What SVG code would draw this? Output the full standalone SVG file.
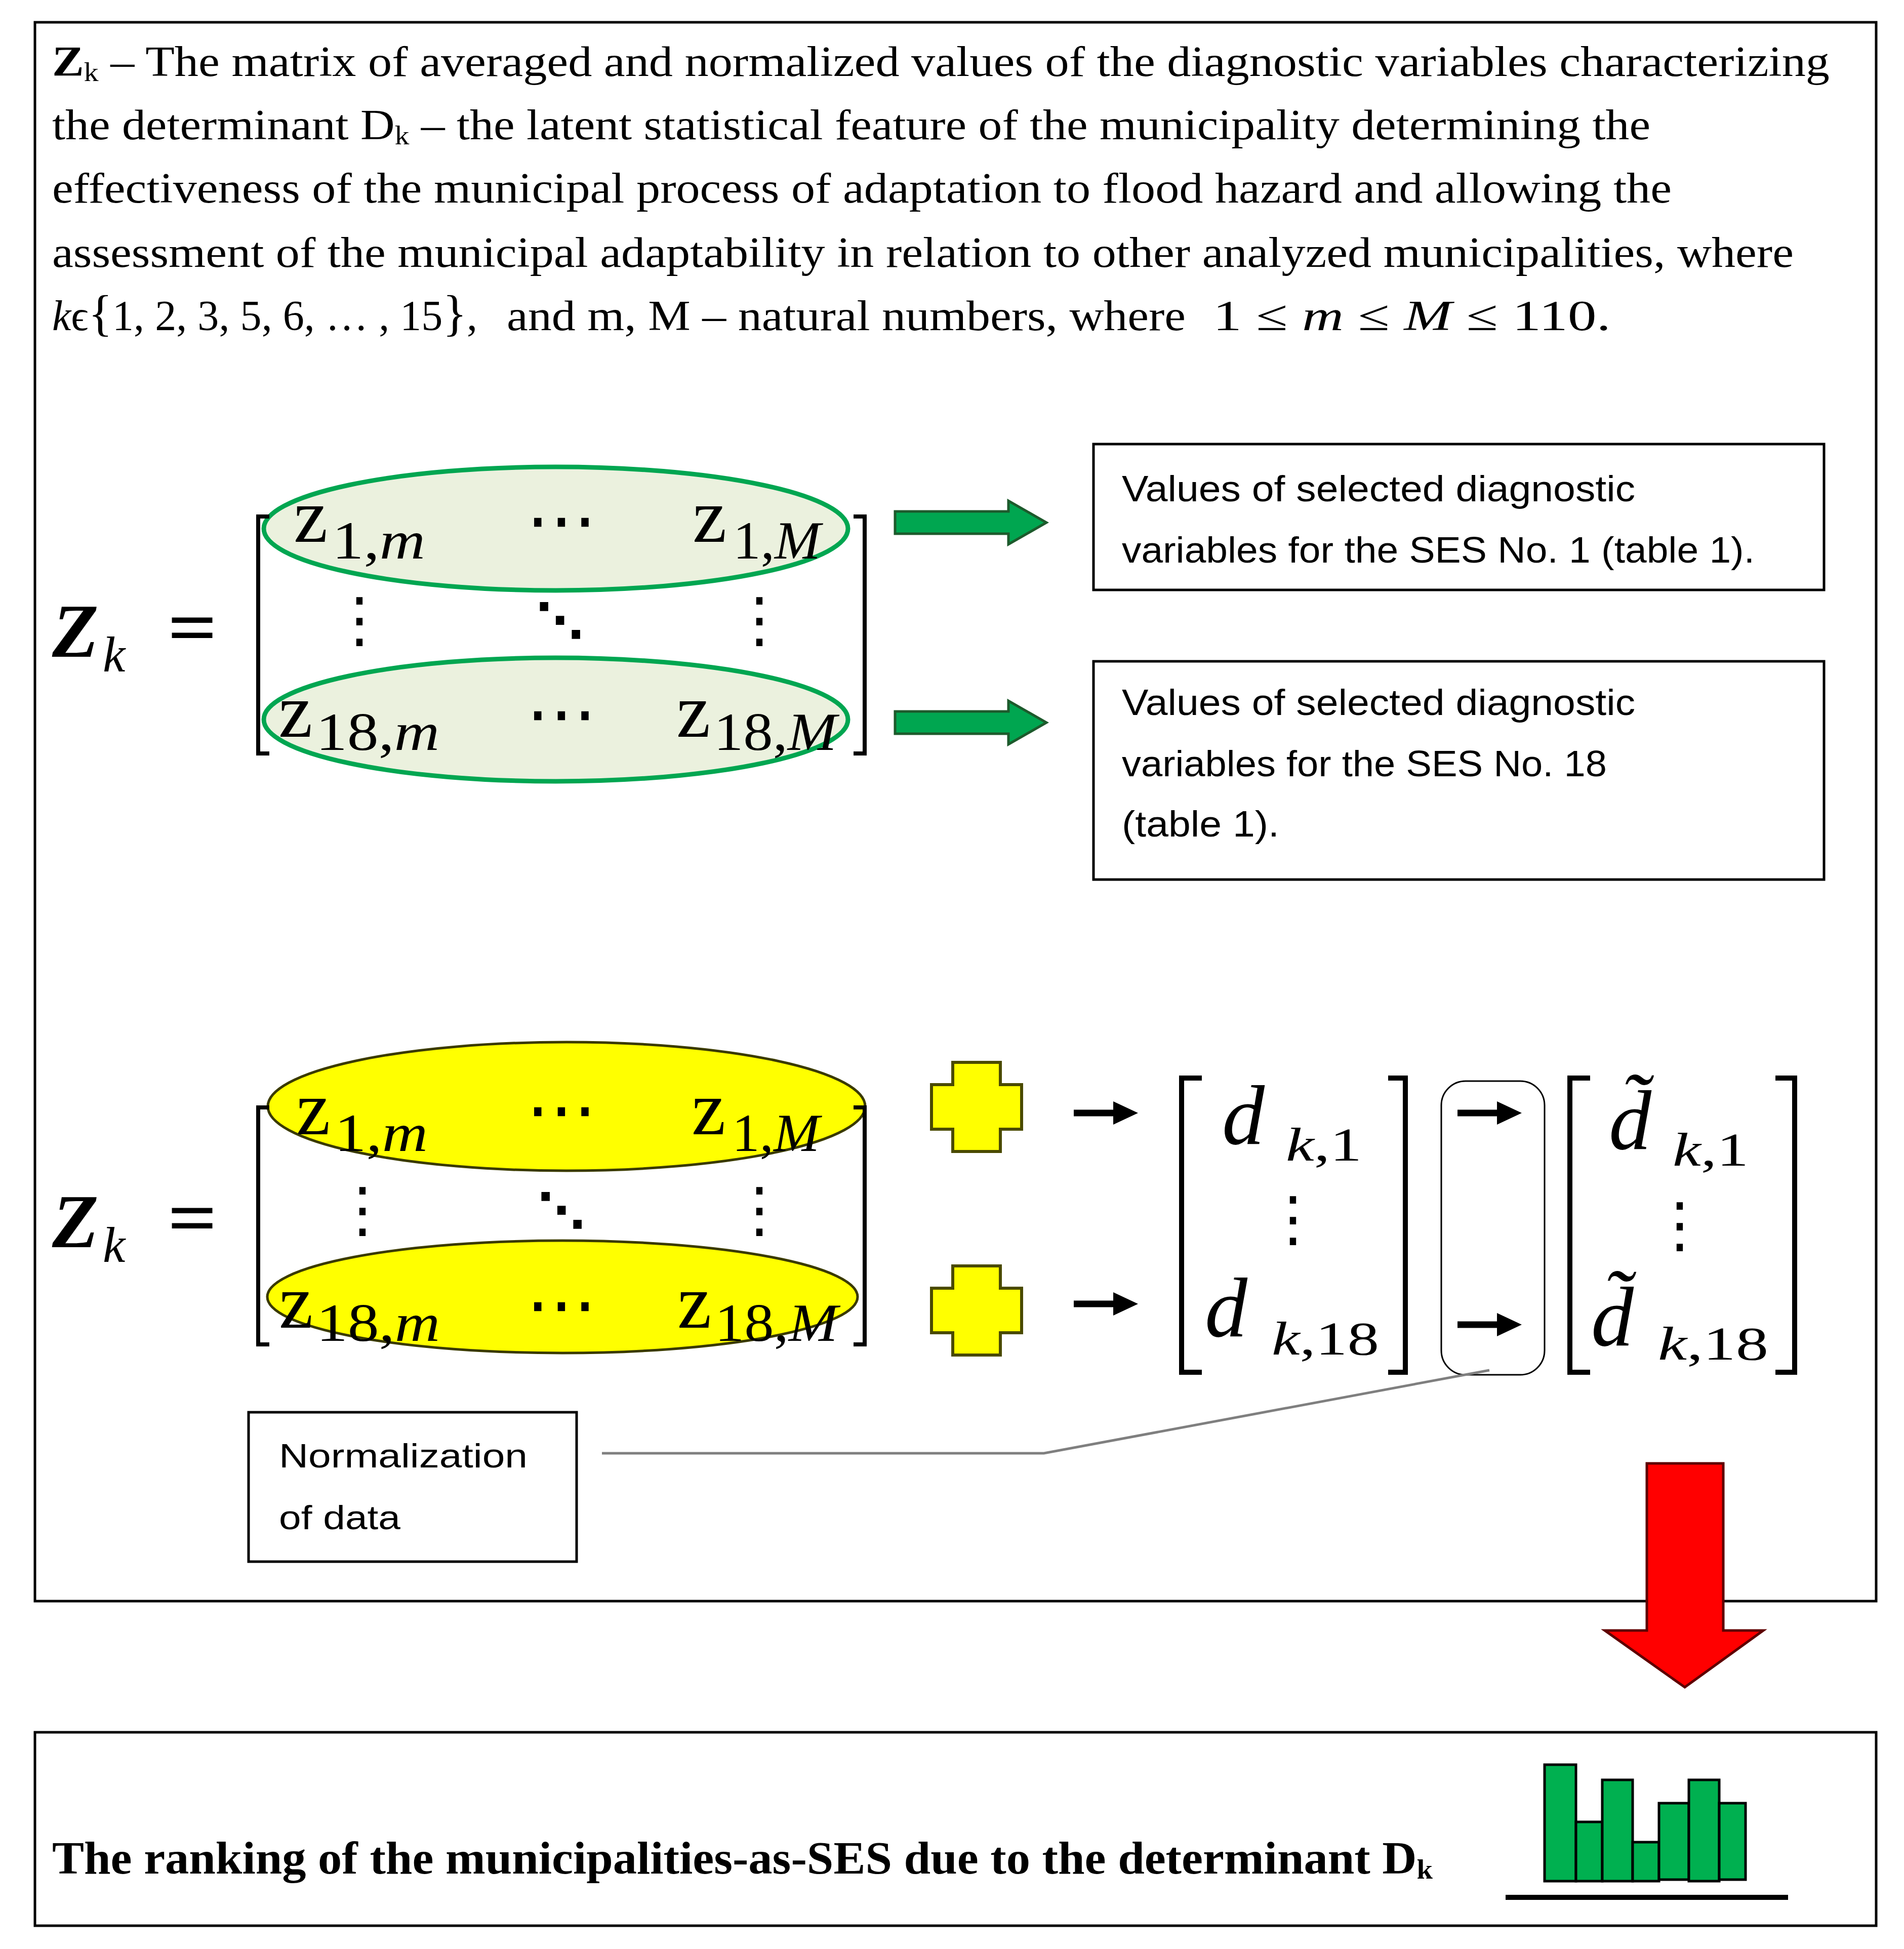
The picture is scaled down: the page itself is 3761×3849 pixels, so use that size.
<svg xmlns="http://www.w3.org/2000/svg" width="3761" height="3849" viewBox="0 0 3761 3849">
<style>
.serif{font-family:"Liberation Serif","DejaVu Serif",serif;fill:#000}
.sans{font-family:"Liberation Sans",Arial,sans-serif;fill:#000}
.dj{font-family:"DejaVu Serif","DejaVu Sans",serif;fill:#000}
.frame{fill:none;stroke:#000;stroke-width:5}
.box{fill:#fff;stroke:#000;stroke-width:5}
.brk{fill:none;stroke:#000;stroke-width:8;stroke-linecap:butt;stroke-linejoin:miter}
.vbrk{fill:none;stroke:#000;stroke-width:10;stroke-linejoin:miter}
.gell{fill:#ebf1de;stroke:#00a651;stroke-width:9}
.yell{fill:#ffff00;stroke:#3a3a00;stroke-width:5}
.bar{fill:#00b050;stroke:#000;stroke-width:5}
.it{font-style:italic}
</style>
<defs>
<path id="garrow" d="M0,-22 H224 V-43 L299,0 L224,43 V22 H0 Z" fill="#00a650" stroke="#1d5a2c" stroke-width="5"/>
<path id="sarrow" d="M0,-6.5 H78 V-23 L127,0 L78,23 V6.5 H0 Z" fill="#000"/>
<path id="cross" d="M-47,-88 H47 V-44 H89 V44 H47 V88 H-47 V44 H-89 V-44 H-47 Z" fill="#ffff00" stroke="#4a4a00" stroke-width="6"/>
</defs>
<rect width="3761" height="3849" fill="#fff"/>

<g id="top-frame">
<rect class="frame" x="69" y="44" width="3637" height="3118"/>
</g>

<g id="description">
<text class="serif" x="103" y="150" font-size="85" textLength="3511" lengthAdjust="spacingAndGlyphs"><tspan font-weight="bold">Z</tspan><tspan font-size="52" dy="10">k</tspan><tspan dy="-10"> – The matrix of averaged and normalized values of the diagnostic variables characterizing</tspan></text>
<text class="serif" x="103" y="275" font-size="85" textLength="3157" lengthAdjust="spacingAndGlyphs">the determinant D<tspan font-size="52" dy="10">k</tspan><tspan dy="-10"> – the latent statistical feature of the municipality determining the</tspan></text>
<text class="serif" x="103" y="400" font-size="85" textLength="3199" lengthAdjust="spacingAndGlyphs">effectiveness of the municipal process of adaptation to flood hazard and allowing the</text>
<text class="serif" x="103" y="527" font-size="85" textLength="3440" lengthAdjust="spacingAndGlyphs">assessment of the municipal adaptability in relation to other analyzed municipalities, where</text>
<text class="serif" x="103" y="652" font-size="85" textLength="840" lengthAdjust="spacingAndGlyphs"><tspan font-style="italic">k</tspan>ϵ<tspan font-size="100">{</tspan>1, 2, 3, 5, 6, … , 15<tspan font-size="100">}</tspan>,</text>
<text class="serif" x="1001" y="652" font-size="85" textLength="1341" lengthAdjust="spacingAndGlyphs">and m, M – natural numbers, where</text>
<text class="serif" x="2396" y="652" font-size="85" textLength="786" lengthAdjust="spacingAndGlyphs">1 ≤ <tspan font-style="italic">m</tspan> ≤ <tspan font-style="italic">M</tspan>  ≤ 110.</text>
</g>

<g id="matrix-upper">
<ellipse class="gell" cx="1098" cy="1044" rx="577" ry="122"/>
<ellipse class="gell" cx="1098" cy="1421" rx="577" ry="122"/>
<text class="serif" x="103" y="1297" font-size="150" font-weight="bold" font-style="italic">Z</text>
<text class="serif it" x="203" y="1326" font-size="100">k</text>
<text class="serif" x="331" y="1290" font-size="150" font-weight="bold" textLength="98" lengthAdjust="spacingAndGlyphs">=</text>
<path class="brk" d="M532,1020 H510 V1488 H532 M1686,1020 H1708 V1488 H1686"/>
<text class="serif" x="580" y="1070" font-size="152">z</text>
<text class="serif" x="656" y="1103" font-size="105" textLength="184" lengthAdjust="spacingAndGlyphs">1,<tspan font-style="italic">m</tspan></text>
<text class="dj" x="1109" y="1075" font-size="140" text-anchor="middle">⋯</text>
<text class="serif" x="1368" y="1070" font-size="152">z</text>
<text class="serif" x="1448" y="1103" font-size="105" textLength="173" lengthAdjust="spacingAndGlyphs">1,<tspan font-style="italic">M</tspan></text>
<text class="dj" x="710" y="1265" font-size="120" text-anchor="middle">⋮</text>
<text class="dj" x="1106" y="1258" font-size="94" font-weight="bold" text-anchor="middle">⋱</text>
<text class="dj" x="1500" y="1265" font-size="120" text-anchor="middle">⋮</text>
<text class="serif" x="550" y="1455" font-size="152">z</text>
<text class="serif" x="624" y="1481" font-size="105" textLength="244" lengthAdjust="spacingAndGlyphs">18,<tspan font-style="italic">m</tspan></text>
<text class="dj" x="1109" y="1457" font-size="140" text-anchor="middle">⋯</text>
<text class="serif" x="1336" y="1455" font-size="152">z</text>
<text class="serif" x="1410" y="1481" font-size="105" textLength="243" lengthAdjust="spacingAndGlyphs">18,<tspan font-style="italic">M</tspan></text>
</g>

<g id="ses-box-1">
<rect class="box" x="2160" y="877" width="1443" height="288"/>
<text class="sans" x="2216" y="990" font-size="72" textLength="1014" lengthAdjust="spacingAndGlyphs">Values of selected diagnostic</text>
<text class="sans" x="2216" y="1111" font-size="72" textLength="1250" lengthAdjust="spacingAndGlyphs">variables for the SES No. 1 (table 1).</text>
</g>

<g id="ses-box-18">
<rect class="box" x="2160" y="1306" width="1443" height="431"/>
<text class="sans" x="2216" y="1412" font-size="72" textLength="1014" lengthAdjust="spacingAndGlyphs">Values of selected diagnostic</text>
<text class="sans" x="2216" y="1533" font-size="72" textLength="958" lengthAdjust="spacingAndGlyphs">variables for the SES No. 18</text>
<text class="sans" x="2216" y="1652" font-size="72" textLength="311" lengthAdjust="spacingAndGlyphs">(table 1).</text>
</g>

<g id="matrix-lower">
<ellipse class="yell" cx="1119" cy="2185" rx="590" ry="127"/>
<ellipse class="yell" cx="1111" cy="2561" rx="583" ry="111"/>
<text class="serif" x="103" y="2463" font-size="150" font-weight="bold" font-style="italic">Z</text>
<text class="serif it" x="203" y="2492" font-size="100">k</text>
<text class="serif" x="331" y="2456" font-size="150" font-weight="bold" textLength="98" lengthAdjust="spacingAndGlyphs">=</text>
<path class="brk" d="M532,2187 H510 V2655 H532 M1686,2187 H1708 V2655 H1686"/>
<text class="serif" x="585" y="2240" font-size="152">z</text>
<text class="serif" x="661" y="2273" font-size="105" textLength="184" lengthAdjust="spacingAndGlyphs">1,<tspan font-style="italic">m</tspan></text>
<text class="dj" x="1109" y="2239" font-size="140" text-anchor="middle">⋯</text>
<text class="serif" x="1366" y="2240" font-size="152">z</text>
<text class="serif" x="1446" y="2273" font-size="105" textLength="173" lengthAdjust="spacingAndGlyphs">1,<tspan font-style="italic">M</tspan></text>
<text class="dj" x="716" y="2430" font-size="120" text-anchor="middle">⋮</text>
<text class="dj" x="1109" y="2423" font-size="94" font-weight="bold" text-anchor="middle">⋱</text>
<text class="dj" x="1500" y="2430" font-size="120" text-anchor="middle">⋮</text>
<text class="serif" x="551" y="2622" font-size="152">z</text>
<text class="serif" x="625" y="2648" font-size="105" textLength="244" lengthAdjust="spacingAndGlyphs">18,<tspan font-style="italic">m</tspan></text>
<text class="dj" x="1109" y="2624" font-size="140" text-anchor="middle">⋯</text>
<text class="serif" x="1338" y="2622" font-size="152">z</text>
<text class="serif" x="1412" y="2648" font-size="105" textLength="243" lengthAdjust="spacingAndGlyphs">18,<tspan font-style="italic">M</tspan></text>
</g>

<g id="cross-1"><use href="#cross" x="1929" y="2186"/></g>
<g id="cross-2"><use href="#cross" x="1929" y="2588"/></g>

<g id="vector-d">
<path class="vbrk" d="M2374,2129 H2334 V2710 H2374 M2742,2129 H2776 V2710 H2742"/>
<text class="serif it" x="2414" y="2259" font-size="168">d</text>
<text class="serif it" x="2540" y="2292" font-size="94" textLength="150" lengthAdjust="spacingAndGlyphs">k<tspan font-style="normal">,1</tspan></text>
<text class="dj" x="2554" y="2448" font-size="120" text-anchor="middle">⋮</text>
<text class="serif it" x="2380" y="2639" font-size="168">d</text>
<text class="serif it" x="2512" y="2675" font-size="94" textLength="212" lengthAdjust="spacingAndGlyphs">k<tspan font-style="normal">,18</tspan></text>
</g>

<g id="normalization-step">
<rect x="2847" y="2135" width="204" height="580" rx="48" ry="48" fill="none" stroke="#000" stroke-width="3"/>
<use href="#sarrow" x="2879" y="2198"/>
<use href="#sarrow" x="2879" y="2616"/>
</g>

<g id="vector-dtilde">
<path class="vbrk" d="M3141,2129 H3101 V2710 H3141 M3507,2129 H3545 V2710 H3507"/>
<text class="serif it" x="3178" y="2269" font-size="168">d̃</text>
<text class="serif it" x="3304" y="2302" font-size="94" textLength="150" lengthAdjust="spacingAndGlyphs">k<tspan font-style="normal">,1</tspan></text>
<text class="dj" x="3318" y="2460" font-size="120" text-anchor="middle">⋮</text>
<text class="serif it" x="3143" y="2657" font-size="168">d̃</text>
<text class="serif it" x="3275" y="2685" font-size="94" textLength="218" lengthAdjust="spacingAndGlyphs">k<tspan font-style="normal">,18</tspan></text>
</g>

<g id="normalization-box">
<rect class="box" x="491" y="2789" width="648" height="295"/>
<text class="sans" x="551" y="2898" font-size="67" textLength="491" lengthAdjust="spacingAndGlyphs">Normalization</text>
<text class="sans" x="551" y="3020" font-size="67" textLength="240" lengthAdjust="spacingAndGlyphs">of data</text>
</g>

<g id="connectors">
<use href="#garrow" x="1768" y="1032"/>
<use href="#garrow" x="1768" y="1427"/>
<use href="#sarrow" x="2121" y="2198"/>
<use href="#sarrow" x="2121" y="2575"/>
<polyline points="1189,2870 2062,2870 2942,2706" fill="none" stroke="#7f7f7f" stroke-width="5"/>
<path d="M3253,2890 H3404 V3220 H3483 L3328,3332 L3170,3220 H3253 Z" fill="#ff0000" stroke="#5e0000" stroke-width="5"/>
</g>

<g id="ranking-box">
<rect class="frame" x="69" y="3421" width="3637" height="382"/>
<text class="serif" x="103" y="3700" font-size="92" font-weight="bold" textLength="2727" lengthAdjust="spacingAndGlyphs">The ranking of the municipalities-as-SES due to the determinant D<tspan font-size="55" dy="10">k</tspan></text>
</g>

<g id="bar-chart">
<rect class="bar" x="3051" y="3485" width="62" height="230"/>
<rect class="bar" x="3113" y="3598" width="52" height="117"/>
<rect class="bar" x="3165" y="3515" width="60" height="200"/>
<rect class="bar" x="3225" y="3638" width="52" height="77"/>
<rect class="bar" x="3277" y="3561" width="59" height="151"/>
<rect class="bar" x="3336" y="3515" width="60" height="200"/>
<rect class="bar" x="3396" y="3561" width="52" height="151"/>
<line x1="2974" y1="3747" x2="3532" y2="3747" stroke="#000" stroke-width="10"/>
</g>
</svg>
